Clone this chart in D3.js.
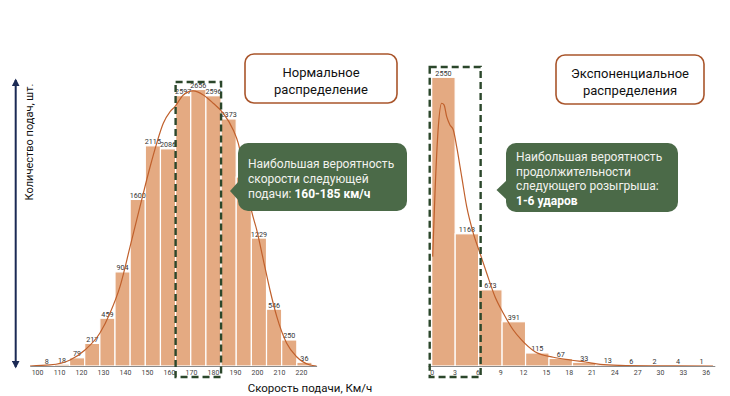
<!DOCTYPE html>
<html>
<head>
<meta charset="utf-8">
<script src="https://cdn.jsdelivr.net/npm/d3@7"></script>
<style>
    body { margin: 0; background: #fff; }
    svg { display: block; font-family: Roboto, "Noto Sans", sans-serif; }
</style>
</head>
<body>
<div id="chart"></div>
<script>
// --- data: normal distribution (serve speed, km/h) ---
const normalCounts = [8, 18, 79, 217, 459, 904, 1600, 2115, 2086, 2597, 2656, 2596, 2373, 1815, 1229, 546, 250, 36];
const normalHiddenLabels = [13]; // under the callout in the original
const normalRange = [101, 225];
const normalTicks = [100, 110, 120, 130, 140, 150, 160, 170, 180, 190, 200, 210, 220];
const normalKde = [
    [96.8, 0], [105.9, 10], [115, 58], [121.8, 154], [128.6, 317], [133.2, 509], [137.7, 762],
    [142.3, 1146], [146.8, 1530], [151.4, 1914], [154.4, 2139], [157.4, 2331], [160.5, 2443],
    [162.7, 2491], [166.5, 2603], [171, 2642], [175.6, 2603], [180.1, 2524], [184.7, 2427],
    [189.2, 2267], [191.5, 2139], [194.5, 1825], [197.6, 1482], [199.9, 1306], [202.9, 1018],
    [205.9, 730], [209, 474], [213.5, 218], [218, 89], [224.1, 10], [227.1, 0]
];

// --- data: exponential distribution (rally length, shots) ---
const expCounts = [2550, 1168, 673, 391, 115, 67, 33, 13, 6, 2, 4, 1];
const expRange = [0, 37];
const expTicks = [0, 3, 6, 9, 12, 15, 18, 21, 24, 27, 30, 33, 36];
const expKde = [
    [0.13, 966], [0.43, 1526], [0.87, 2114], [1.31, 2321], [1.62, 2306], [1.97, 2202],
    [2.4, 2129], [2.84, 2085], [3.28, 1937], [3.94, 1672], [4.6, 1407], [5.47, 1172],
    [6.35, 996], [7.23, 819], [8.32, 612], [9.41, 466], [10.72, 318], [11.8, 230],
    [13.57, 126], [15.98, 77], [18.17, 53], [20.37, 33], [22.14, 15], [24.74, 6],
    [29.08, 2], [36.96, 0]
];

const W = 730, H = 396, baseY = 366;
const barColor = "#e4aa82", lineColor = "#c0602c", green = "#4b6a48",
    dashColor = "#2b472b", frameColor = "#a9552b";

const svg = d3.select("#chart").append("svg")
    .attr("width", W)
    .attr("height", H);

const defs = svg.append("defs");
defs.append("marker")
    .attr("id", "arrow")
    .attr("viewBox", "0 0 10 10")
    .attr("refX", 8).attr("refY", 5)
    .attr("markerWidth", 4).attr("markerHeight", 4)
    .attr("orient", "auto-start-reverse")
    .append("path")
    .attr("d", "M0,0L10,5L0,10z")
    .attr("fill", "#1b2a55");

/** one histogram panel */
function panel(cfg) {
    const g = svg.append("g");
    const x = d3.scaleLinear().domain(cfg.xDomain).range(cfg.xRange);
    const y = d3.scaleLinear().domain(cfg.yDomain).range([baseY, cfg.yTop]);

    const n = cfg.counts.length,
        step = (cfg.range[1] - cfg.range[0]) / n;
    const bins = cfg.counts.map((c, i) => ({
        i,
        x0: cfg.range[0] + i * step,
        x1: cfg.range[0] + (i + 1) * step,
        c
    }));

    g.append("g")
        .selectAll("rect")
        .data(bins)
        .enter().append("rect")
        .attr("x", d => x(d.x0))
        .attr("y", d => y(d.c))
        .attr("width", d => x(d.x1) - x(d.x0))
        .attr("height", d => baseY - y(d.c))
        .attr("fill", barColor)
        .attr("stroke", "#fff")
        .attr("stroke-width", 1.2);

    g.append("g")
        .selectAll("text")
        .data(bins.filter(d => !(cfg.hidden || []).includes(d.i)))
        .enter().append("text")
        .attr("x", d => (x(d.x0) + x(d.x1)) / 2)
        .attr("y", d => y(d.c) - 1.5)
        .attr("text-anchor", "middle")
        .attr("font-size", 7.2)
        .attr("fill", "#333")
        .text(d => d.c);

    const line = d3.line()
        .x(d => x(d[0]))
        .y(d => y(d[1]))
        .curve(d3.curveMonotoneX);

    g.append("path")
        .datum(cfg.kde)
        .attr("d", line)
        .attr("fill", "none")
        .attr("stroke", lineColor)
        .attr("stroke-width", 1.2);

    const xAxis = d3.axisBottom(x)
        .tickValues(cfg.ticks)
        .tickSize(0)
        .tickSizeOuter(0)
        .tickPadding(4.5);

    const ax = g.append("g")
        .attr("transform", "translate(0," + baseY + ")")
        .call(xAxis);
    ax.select(".domain").attr("stroke", "#8a8a8a").attr("stroke-width", 1);
    ax.selectAll("text")
        .attr("font-size", 7)
        .attr("font-family", "Roboto, sans-serif")
        .attr("fill", "#444");

    // highlighted bins
    const hb0 = bins[cfg.highlight[0]], hb1 = bins[cfg.highlight[1]];
    g.append("rect")
        .attr("x", x(hb0.x0) - cfg.boxPad)
        .attr("y", cfg.boxTop)
        .attr("width", x(hb1.x1) - x(hb0.x0) + cfg.boxPad * 2)
        .attr("height", 377 - cfg.boxTop)
        .attr("fill", "none")
        .attr("stroke", dashColor)
        .attr("stroke-width", 2.4)
        .attr("stroke-dasharray", "7,4");

    return g;
}

function titleBox(cx, top, w, h, lines) {
    svg.append("rect")
        .attr("x", cx - w / 2).attr("y", top)
        .attr("width", w).attr("height", h)
        .attr("rx", 9)
        .attr("fill", "#fff")
        .attr("stroke", frameColor)
        .attr("stroke-width", 1.6);
    svg.append("text")
        .attr("text-anchor", "middle")
        .attr("font-size", 13)
        .attr("fill", "#111")
        .selectAll("tspan")
        .data(lines)
        .enter().append("tspan")
        .attr("x", cx)
        .attr("y", (d, i) => top + 23 + i * 16.5)
        .text(d => d);
}

function callout(x0, y0, w, h, tipX, tipY, lines, firstY, lh) {
    const g = svg.append("g");
    g.append("rect")
        .attr("x", x0).attr("y", y0)
        .attr("width", w).attr("height", h)
        .attr("rx", 10)
        .attr("fill", green);
    g.append("path")
        .attr("d", "M" + (x0 + 1) + "," + (tipY - 10) + "L" + tipX + "," + tipY + "L" + (x0 + 1) + "," + (tipY + 10) + "z")
        .attr("fill", green);
    lines.forEach((ln, i) => {
        const row = g.append("text")
            .attr("font-size", 12)
            .attr("fill", "#f2f2ee")
            .attr("x", x0 + 10)
            .attr("y", y0 + firstY + i * lh);
        ln.forEach(part => {
            const s = row.append("tspan").text(part.t);
            if (part.b) s.attr("font-weight", "bold").attr("fill", "#fff");
        });
    });
}

panel({
    counts: normalCounts, range: normalRange, ticks: normalTicks, kde: normalKde,
    hidden: normalHiddenLabels,
    xDomain: [96.8, 227.1], xRange: [30, 316.6],
    yDomain: [0, 2700], yTop: 84.9,
    highlight: [9, 11], boxPad: 0, boxTop: 82
});

panel({
    counts: expCounts, range: expRange, ticks: expTicks, kde: expKde,
    xDomain: [-0.5, 37.2], xRange: [427.9, 714.8],
    yDomain: [0, 2550], yTop: 77.3,
    highlight: [0, 1], boxPad: 2, boxTop: 67
});

// y axis arrow + labels
svg.append("line")
    .attr("x1", 15.7).attr("x2", 15.7)
    .attr("y1", 80).attr("y2", 367)
    .attr("stroke", "#1b2a55")
    .attr("stroke-width", 2)
    .attr("marker-start", "url(#arrow)")
    .attr("marker-end", "url(#arrow)");

svg.append("text")
    .attr("transform", "translate(33,142) rotate(-90)")
    .attr("text-anchor", "middle")
    .attr("font-size", 11)
    .attr("fill", "#111")
    .text("Количество подач, шт.");

svg.append("text")
    .attr("x", 310).attr("y", 392)
    .attr("text-anchor", "middle")
    .attr("font-size", 11.5)
    .attr("fill", "#111")
    .text("Скорость подачи, Км/ч");

titleBox(321, 54, 152, 49, ["Нормальное", "распределение"]);
titleBox(630, 55, 148, 49, ["Экспоненциальное", "распределения"]);

callout(238, 143, 169, 68, 230, 191, [
    [{t: "Наибольшая вероятность"}],
    [{t: "скорости следующей"}],
    [{t: "подачи: "}, {t: "160-185 км/ч", b: true}]
], 25, 15);

callout(506, 143, 172, 69, 496.5, 190, [
    [{t: "Наибольшая вероятность"}],
    [{t: "продолжительности"}],
    [{t: "следующего розыгрыша:"}],
    [{t: "1-6 ударов", b: true}]
], 18, 14.6);
</script>
</body>
</html>
